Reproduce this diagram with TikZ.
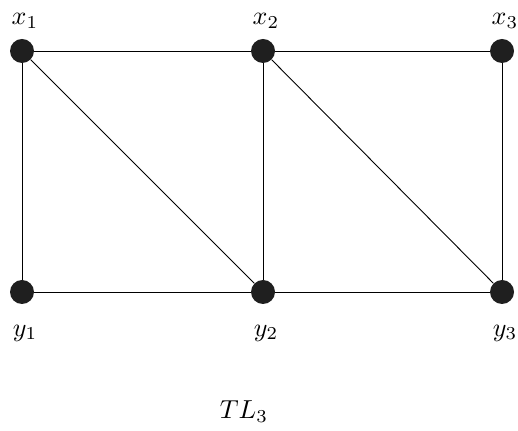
\documentclass[tikz,border=0pt]{standalone}
\usepackage{amsmath}
\usepackage{amssymb}

\begin{document}
\begin{tikzpicture}[x=1pt, y=1pt, line width=0.9pt,
  vertex/.style={circle, fill=black!88, inner sep=0pt, minimum size=24pt},
  lbl/.style={scale=2.6}]
            \useasboundingbox (0,0) rectangle (518,430);
            \node[vertex] (X1) at (22,379) {};
            \node[vertex] (X2) at (263,379) {};
            \node[vertex] (X3) at (502,379) {};
            \node[vertex] (Y1) at (22,138) {};
            \node[vertex] (Y2) at (263,138) {};
            \node[vertex] (Y3) at (502,138) {};

            \node[lbl] (LX1) at (25,409) {$x_1$};
            \node[lbl] (LX2) at (266,409) {$x_2$};
            \node[lbl] (LX3) at (505,409) {$x_3$};
            \node[lbl] (LY1) at (25,97) {$y_1$};
            \node[lbl] (LY2) at (266,97) {$y_2$};
            \node[lbl] (LY3) at (505,97) {$y_3$};
            \node[lbl] (T) at (244,18) {$TL_3$};
            
            \draw (X1) -- (X2); 
            \draw (X2) -- (X3);
            \draw (Y1) -- (Y2); 
            \draw (Y2) -- (Y3);
            \draw (X1) -- (Y1);
            \draw (X2) -- (Y2);
            \draw (X3) -- (Y3);
            \draw (X1) -- (Y2);
            \draw (X2) -- (Y3);
        \end{tikzpicture}
\end{document}
